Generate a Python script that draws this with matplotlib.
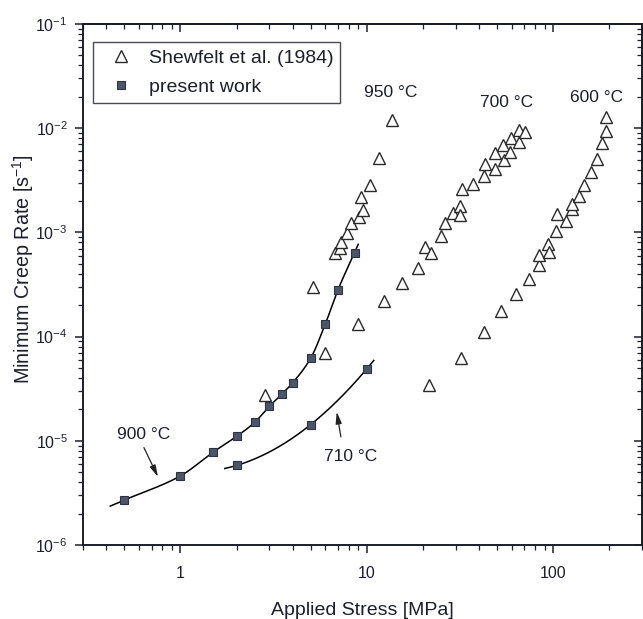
import numpy as np
import matplotlib
matplotlib.use("Agg")
import matplotlib.pyplot as plt
from matplotlib.ticker import LogLocator, NullFormatter, FixedLocator, FixedFormatter

# ---------------- data ----------------
shew_950_stress = [2.86, 5.13, 6.0, 6.74, 7.2, 7.25, 7.81, 8.28, 9.03, 9.37, 9.5, 10.4, 11.6, 13.7]
shew_950_rate = [2.77e-5, 2.98e-4, 6.9e-5, 6.3e-4, 7.1e-4, 8.1e-4, 9.9e-4, 1.22e-3, 1.42e-3,
                 2.19e-3, 1.64e-3, 2.85e-3, 5.2e-3, 1.2e-2]

shew_700_stress = [8.92, 12.3, 15.4, 18.8, 20.6, 22.1, 25.0, 26.4, 29.0, 31.8, 31.8, 32.4,
                   37.3, 42.8, 42.9, 48.6, 48.8, 54.5, 54.0, 58.4, 59.4, 65.3, 65.3, 70.3]
shew_700_rate = [1.33e-4, 2.22e-4, 3.3e-4, 4.6e-4, 7.2e-4, 6.4e-4, 9.2e-4, 1.22e-3, 1.52e-3,
                 1.79e-3, 1.46e-3, 2.59e-3, 2.9e-3, 3.48e-3, 4.5e-3, 4.1e-3, 5.75e-3, 5.0e-3,
                 6.9e-3, 5.9e-3, 8.0e-3, 7.45e-3, 9.6e-3, 9.1e-3]

shew_600_stress = [21.6, 31.9, 42.6, 52.7, 63.2, 73.9, 83.6, 84.0, 93.8, 95.4, 104, 105, 117,
                   126, 126, 138, 147, 160, 171, 183, 193, 193]
shew_600_rate = [3.4e-5, 6.3e-5, 1.11e-4, 1.78e-4, 2.57e-4, 3.6e-4, 4.9e-4, 6.1e-4, 7.8e-4,
                 6.5e-4, 1.03e-3, 1.51e-3, 1.28e-3, 1.66e-3, 1.86e-3, 2.23e-3, 2.83e-3,
                 3.8e-3, 5.1e-3, 7.2e-3, 9.4e-3, 1.27e-2]

pw_900_stress = [0.5, 1.0, 1.5, 2.0, 2.5, 3.0, 3.5, 4.0, 5.0, 6.0, 7.0, 8.6]
pw_900_rate = [2.7e-6, 4.6e-6, 7.8e-6, 1.1e-5, 1.5e-5, 2.14e-5, 2.8e-5, 3.6e-5, 6.2e-5,
               1.33e-4, 2.8e-4, 6.4e-4]
pw_710_stress = [2.0, 5.0, 10.0]
pw_710_rate = [5.8e-6, 1.43e-5, 4.9e-5]

# stress range covered by each fit line
fit_900_range = (0.42, 9.0)
fit_710_range = (1.73, 10.9)

x_ticks = [1, 10, 100]
x_ticklabels = ["1", "10", "100"]
y_ticks = [1e-6, 1e-5, 1e-4, 1e-3, 1e-2, 1e-1]
y_ticklabels = [r"$10^{-6}$", r"$10^{-5}$", r"$10^{-4}$", r"$10^{-3}$", r"$10^{-2}$", r"$10^{-1}$"]

legend_labels = ["Shewfelt et al. (1984)", "present work"]
temp_labels = ["950 °C", "700 °C", "600 °C", "900 °C", "710 °C"]


def pchip_loglog(xd, yd, xq):
    """Smooth monotone cubic curve through the data in log-log space."""
    x = np.log10(xd)
    y = np.log10(yd)
    q = np.log10(xq)
    h = np.diff(x)
    d = np.diff(y) / h
    n = len(x)
    m = np.zeros(n)
    m[0], m[-1] = d[0], d[-1]
    for k in range(1, n - 1):
        if d[k - 1] * d[k] <= 0:
            m[k] = 0.0
        else:
            w1 = 2 * h[k] + h[k - 1]
            w2 = h[k] + 2 * h[k - 1]
            m[k] = (w1 + w2) / (w1 / d[k - 1] + w2 / d[k])
    out = np.empty_like(q)
    for i, qq in enumerate(q):
        if qq <= x[0]:
            out[i] = y[0] + m[0] * (qq - x[0])
        elif qq >= x[-1]:
            out[i] = y[-1] + m[-1] * (qq - x[-1])
        else:
            k = np.searchsorted(x, qq) - 1
            t = (qq - x[k]) / h[k]
            h00 = 2 * t**3 - 3 * t**2 + 1
            h10 = t**3 - 2 * t**2 + t
            h01 = -2 * t**3 + 3 * t**2
            h11 = t**3 - t**2
            out[i] = h00 * y[k] + h10 * h[k] * m[k] + h01 * y[k + 1] + h11 * h[k] * m[k + 1]
    return 10 ** out


# ---------------- style ----------------
plt.rcParams["font.family"] = ["Liberation Sans", "DejaVu Sans"]
plt.rcParams["mathtext.fontset"] = "custom"
plt.rcParams["mathtext.rm"] = "Liberation Sans"
plt.rcParams["mathtext.it"] = "Liberation Sans"
plt.rcParams["mathtext.bf"] = "Liberation Sans"
plt.rcParams["mathtext.sf"] = "Liberation Sans"

INK = "#1c1f2a"

fig = plt.figure(figsize=(6.43, 6.19), dpi=100)
W, H = 643, 619
L, R, T, B = 83, 642, 24, 545
ax = fig.add_axes([L / W, 1 - B / H, (R - L) / W, (B - T) / H])
ax.set_xscale("log")
ax.set_yscale("log")
ax.set_xlim(0.3, 300)
ax.set_ylim(1e-6, 1e-1)

# fit lines
xs = np.logspace(np.log10(fit_900_range[0]), np.log10(fit_900_range[1]), 300)
ax.plot(xs, pchip_loglog(pw_900_stress, pw_900_rate, xs), color="black", lw=1.1, zorder=2)

c710 = np.polyfit(np.log10(pw_710_stress), np.log10(pw_710_rate), 2)
xs2 = np.logspace(np.log10(fit_710_range[0]), np.log10(fit_710_range[1]), 200)
ax.plot(xs2, 10 ** np.polyval(c710, np.log10(xs2)), color="black", lw=1.1, zorder=2)

tri_kw = dict(ls="none", marker="^", ms=8, mfc="white", mec="#2a2a2a", mew=1.0, zorder=3)
sq_kw = dict(ls="none", marker="s", ms=5.5, mfc="#4d5568", mec="#2e3342", mew=0.8, zorder=4)

h1, = ax.plot(shew_950_stress, shew_950_rate, label=legend_labels[0], **tri_kw)
ax.plot(shew_700_stress, shew_700_rate, **tri_kw)
ax.plot(shew_600_stress, shew_600_rate, **tri_kw)
h2, = ax.plot(pw_900_stress, pw_900_rate, label=legend_labels[1], **sq_kw)
ax.plot(pw_710_stress, pw_710_rate, **sq_kw)

# temperature labels
fs_t = 12.5
ax.text(13.45, 2.22e-2, temp_labels[0], fontsize=fs_t, ha="center", va="center", color=INK)
ax.text(56.3, 1.78e-2, temp_labels[1], fontsize=fs_t, ha="center", va="center", color=INK)
ax.text(171, 1.99e-2, temp_labels[2], fontsize=fs_t, ha="center", va="center", color=INK)
ax.text(0.637, 1.14e-5, temp_labels[3], fontsize=fs_t, ha="center", va="center", color=INK)
ax.text(8.2, 7.0e-6, temp_labels[4], fontsize=fs_t, ha="center", va="center", color=INK)

arrow_kw = dict(arrowstyle="-|>,head_length=0.7,head_width=0.18", color="#222222", lw=0.9,
                shrinkA=0, shrinkB=0)
ax.annotate("", xy=(0.758, 4.5e-6), xytext=(0.637, 8.6e-6), arrowprops=arrow_kw)
ax.annotate("", xy=(6.9, 1.9e-5), xytext=(7.26, 1.09e-5), arrowprops=arrow_kw)

# axes styling
for s in ax.spines.values():
    s.set_linewidth(1.4)
    s.set_color(INK)

ax.xaxis.set_major_locator(FixedLocator(x_ticks))
ax.xaxis.set_major_formatter(FixedFormatter(x_ticklabels))
ax.xaxis.set_minor_locator(LogLocator(base=10, subs=np.arange(2, 10), numticks=20))
ax.xaxis.set_minor_formatter(NullFormatter())
ax.yaxis.set_major_locator(FixedLocator(y_ticks))
ax.yaxis.set_major_formatter(FixedFormatter(y_ticklabels))
ax.yaxis.set_minor_locator(LogLocator(base=10, subs=np.arange(2, 10), numticks=20))
ax.yaxis.set_minor_formatter(NullFormatter())

ax.tick_params(which="both", direction="out", top=False, right=False, color=INK,
               labelcolor=INK)
ax.tick_params(which="major", length=6, width=1.1, labelsize=11.5)
ax.tick_params(which="minor", length=3.5, width=0.9)
ax.tick_params(axis="x", which="major", pad=9)
ax.tick_params(axis="y", which="major", pad=5)

# top / right mirrored ticks pointing inward
for sec in (ax.secondary_xaxis("top"), ax.secondary_yaxis("right")):
    sec.tick_params(which="both", direction="in", color=INK, labelleft=False,
                    labelright=False, labeltop=False, labelbottom=False)
    sec.tick_params(which="major", length=6, width=1.1)
    sec.tick_params(which="minor", length=3.5, width=0.9)
    for s in sec.spines.values():
        s.set_linewidth(1.4)
        s.set_color(INK)

ax.set_xlabel("Applied Stress [MPa]", fontsize=14, color=INK, labelpad=15)
ax.set_ylabel(r"Minimum Creep Rate [s$^{-1}$]", fontsize=14.2, color=INK)
ax.yaxis.set_label_coords(-0.084, 0.53)

leg = ax.legend(handles=[h1, h2], loc="upper left", bbox_to_anchor=(0.018, 0.9655),
                borderaxespad=0, frameon=True, fancybox=False, fontsize=14,
                handlelength=2.2, handletextpad=0.3, numpoints=1, borderpad=0.36,
                labelspacing=0.6)
leg.get_frame().set_edgecolor(INK)
leg.get_frame().set_linewidth(1.0)
for t in leg.get_texts():
    t.set_color(INK)

fig.savefig("out.png", dpi=100)
